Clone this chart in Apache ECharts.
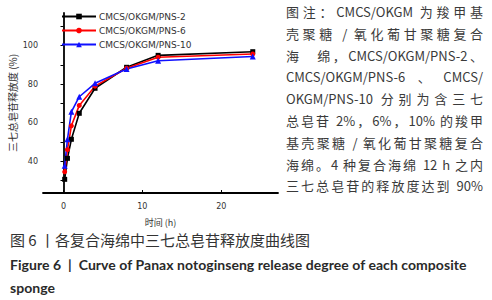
<!DOCTYPE html>
<html>
<head>
<meta charset="utf-8">
<script src="https://cdn.jsdelivr.net/npm/echarts@6/dist/echarts.min.js"></script>
<style>
  html, body { margin: 0; padding: 0; background: #fff; }
  #wrap { position: relative; width: 492px; height: 300px; overflow: hidden; }
  #g_chart { position: absolute; left: 0; top: 0; width: 492px; height: 300px; }
  .note { position: absolute; left: 286px; width: 197px; font-family: "Noto Sans CJK SC", sans-serif;
          font-size: 13px; line-height: 21.75px; color: #3a3a3a; white-space: nowrap;
          text-align: justify; text-align-last: justify; }
  .cap { position: absolute; left: 10px; color: #333; white-space: nowrap; }
</style>
</head>
<body>
<div id="wrap">
  <div id="g_chart"></div>
  <div id="notes"></div>
  <div class="cap" style="top:232px;font-family:'Noto Sans CJK SC',sans-serif;font-size:15px;line-height:16px;">图 6 丨各复合海绵中三七总皂苷释放度曲线图</div>
  <div class="cap" style="top:254px;font-family:Lato,sans-serif;font-weight:bold;font-size:14px;line-height:22.5px;letter-spacing:0.05px;color:#2a2a2a;">Figure 6 &nbsp;|&nbsp; Curve of Panax notoginseng release degree of each composite<br>sponge</div>
</div>
<script>
// 释放时间 (h)
var times = [0.15, 0.5, 1, 2, 4, 8, 12, 24];
// 三七总皂苷释放度 (%)
var pns2 = [30.6, 41.5, 51.4, 64.9, 77.9, 88.8, 95.0, 96.9];
var pns6 = [34.5, 46.0, 58.4, 69.0, 79.0, 88.3, 94.0, 95.7];
var pns10 = [37.7, 51.4, 65.7, 73.5, 80.5, 87.9, 92.2, 94.4];
var seriesNames = ['CMCS/OKGM/PNS-2', 'CMCS/OKGM/PNS-6', 'CMCS/OKGM/PNS-10'];
var xTicks = [0, 10, 20];
var yLabels = [40, 60, 80, 100];
var yTicks = [30, 40, 50, 60, 70, 80, 90, 100, 110];

// 图注文字（按行）
var noteLines = [
  '图注：CMCS/OKGM 为羧甲基',
  '壳聚糖 / 氧化葡甘聚糖复合',
  '海　绵，CMCS/OKGM/PNS-2、',
  'CMCS/OKGM/PNS-6、CMCS/',
  'OKGM/PNS-10 分别为含三七',
  '总皂苷 2%，6%，10% 的羧甲',
  '基壳聚糖 / 氧化葡甘聚糖复合',
  '海绵。4 种复合海绵 12 h 之内',
  '三七总皂苷的释放度达到 90%'
];
var notes = document.getElementById('notes');
noteLines.forEach(function(t, i){
  var d = document.createElement('div');
  d.className = 'note';
  d.style.top = (1 + i * 21.8) + 'px';
  d.textContent = t;
  notes.appendChild(d);
});

function pairs(vals){
  return vals.map(function(v, i){ return [times[i], v]; });
}

var chart = echarts.init(document.getElementById('g_chart'), null, {renderer: 'svg'});
var lineCfg = function(name, vals, color, symbol, size){
  return {
    name: name, type: 'line', data: pairs(vals),
    symbol: symbol, symbolSize: size,
    lineStyle: {color: color, width: 1.6},
    itemStyle: {color: color},
    animation: false
  };
};
chart.setOption({
  backgroundColor: 'transparent',
  grid: {left: 43, top: 13, width: 235, height: 180},
  legend: {
    orient: 'vertical', left: 56, top: 7, itemWidth: 34, itemHeight: 7, itemGap: 5,
    textStyle: {fontFamily: 'DejaVu Sans', fontSize: 9, color: '#333', padding: [0, 0, 0, -2]},
    data: seriesNames
  },
  xAxis: {
    type: 'value', min: -2.6, max: 27.2,
    name: '时间 (h)', nameLocation: 'middle', nameGap: 25,
    nameTextStyle: {fontFamily: 'Noto Sans CJK SC', fontSize: 9, color: '#333'},
    splitLine: {show: false},
    axisLine: {lineStyle: {color: '#000', width: 1.8}},
    axisTick: {inside: true, length: 3, customValues: xTicks, lineStyle: {color: '#000'}},
    axisLabel: {customValues: xTicks, margin: 9, fontFamily: 'DejaVu Sans', fontSize: 8, color: '#333'}
  },
  yAxis: {
    type: 'value', min: 23.5, max: 117,
    name: '三七总皂苷释放度 (%)', nameLocation: 'middle', nameGap: 26, nameRotate: 90,
    nameTextStyle: {fontFamily: 'Noto Sans CJK SC', fontSize: 10, color: '#333'},
    splitLine: {show: false},
    axisLine: {show: true, lineStyle: {color: '#000', width: 1.8}},
    axisTick: {show: true, length: 3, customValues: yTicks, lineStyle: {color: '#000'}},
    axisLabel: {customValues: yLabels, margin: 5, fontFamily: 'DejaVu Sans', fontSize: 8, color: '#333'}
  },
  series: [
    lineCfg(seriesNames[0], pns2, '#000000', 'rect', 5),
    lineCfg(seriesNames[1], pns6, '#ff0000', 'circle', 5),
    lineCfg(seriesNames[2], pns10, '#1010ff', 'triangle', 6)
  ]
});
</script>
</body>
</html>
